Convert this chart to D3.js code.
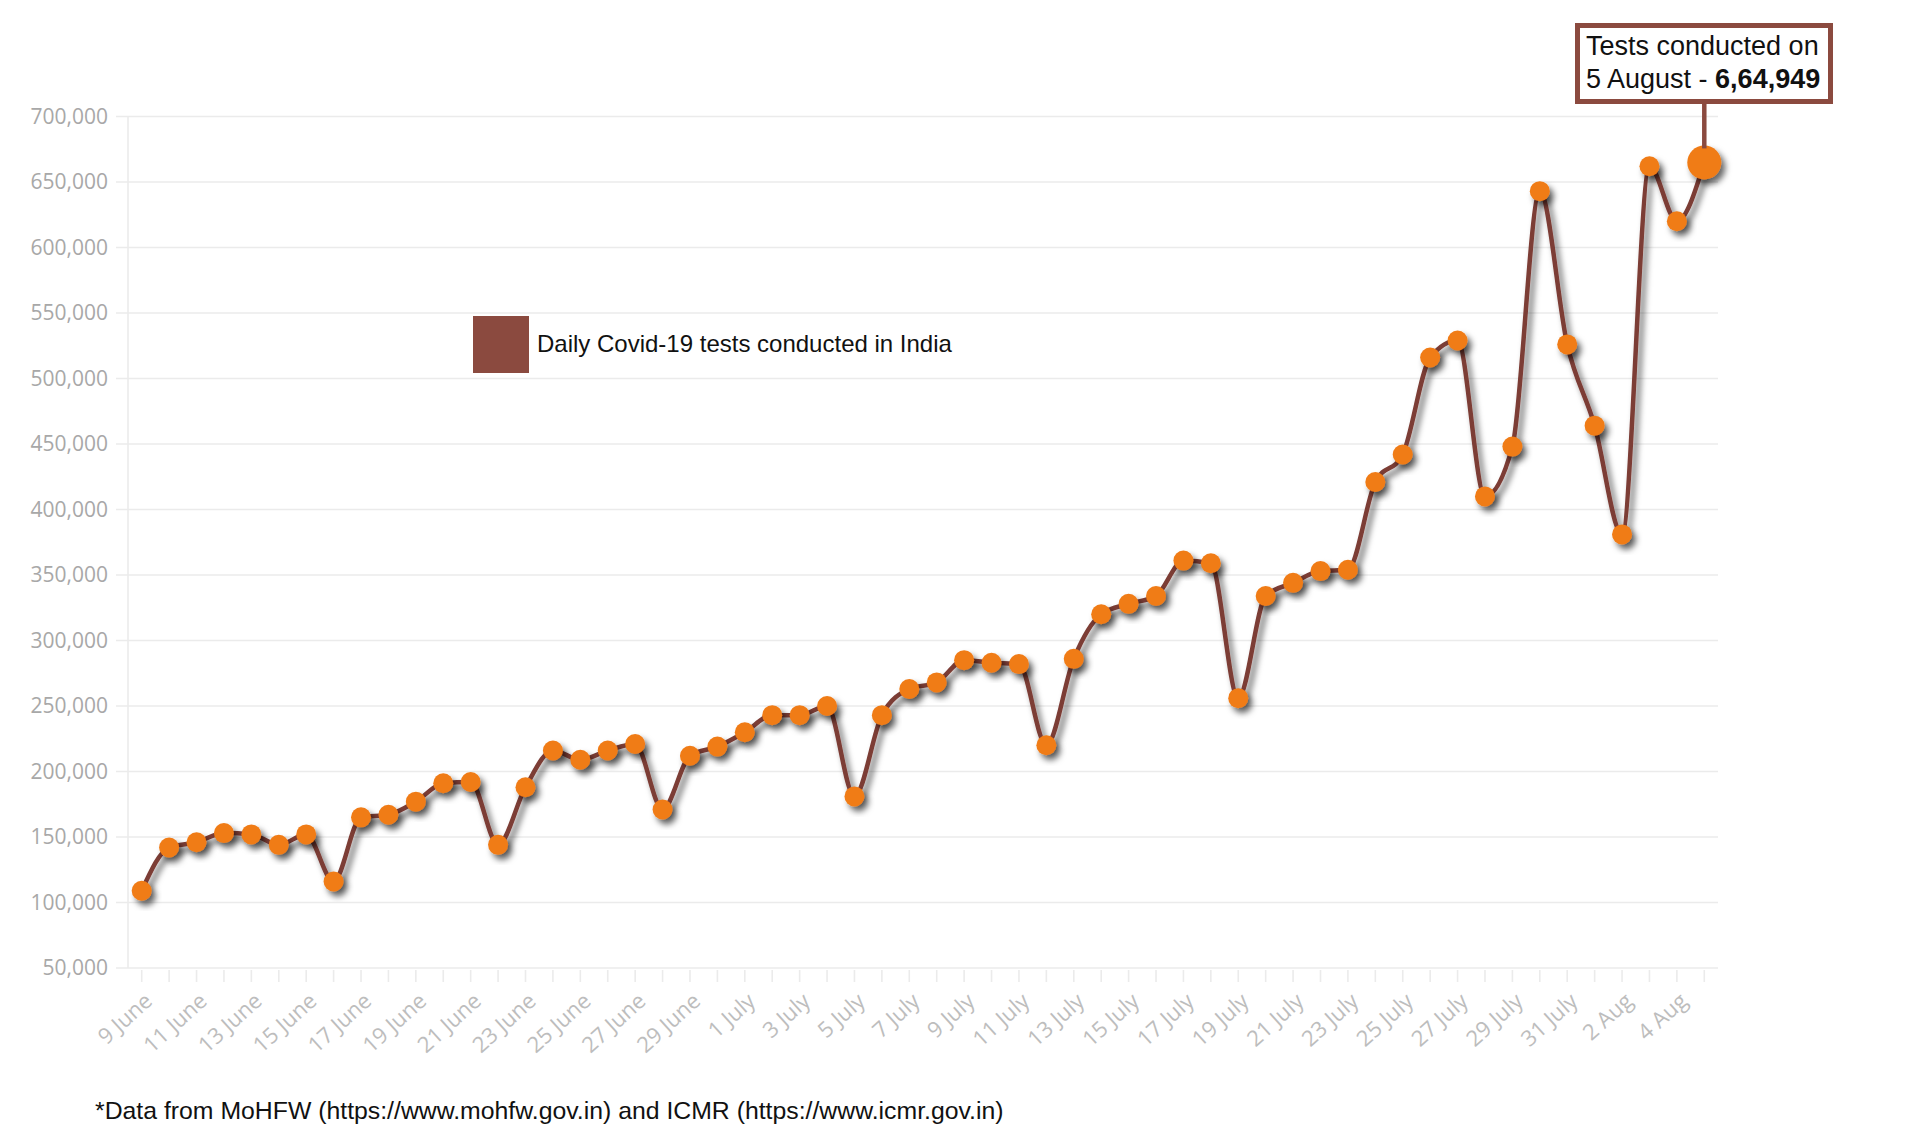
<!DOCTYPE html>
<html>
<head>
<meta charset="utf-8">
<script src="https://cdn.jsdelivr.net/npm/d3@7"></script>
<style>
  body { margin: 0; background: #fff; }
  svg { display: block; }
</style>
</head>
<body>
<svg id="chart" width="1920" height="1140"></svg>
<script>
// one label per day, 9 June to 5 August
var days = [
  "9 June","10 June","11 June","12 June","13 June","14 June","15 June","16 June","17 June","18 June",
  "19 June","20 June","21 June","22 June","23 June","24 June","25 June","26 June","27 June","28 June",
  "29 June","30 June","1 July","2 July","3 July","4 July","5 July","6 July","7 July","8 July",
  "9 July","10 July","11 July","12 July","13 July","14 July","15 July","16 July","17 July","18 July",
  "19 July","20 July","21 July","22 July","23 July","24 July","25 July","26 July","27 July","28 July",
  "29 July","30 July","31 July","1 Aug","2 Aug","3 Aug","4 Aug","5 Aug"
];

// daily tests
var tests = [
  109000,142000,146000,153000,152000,144000,152000,116000,165000,167000,
  177000,191000,192000,144000,188000,216000,209000,216000,221000,171000,
  212000,219000,230000,243000,243000,250000,181000,243000,263000,268000,
  285000,283000,282000,220000,286000,320000,328000,334000,361000,359000,
  256000,334000,344000,353000,354000,421000,442000,516000,529000,410000,
  448000,643000,526000,464000,381000,662000,620000,664949
];

var yTicks = [50000,100000,150000,200000,250000,300000,350000,400000,450000,500000,550000,600000,650000,700000];

var legendText = "Daily Covid-19 tests conducted in India";
var calloutLine1 = "Tests conducted on";
var calloutLine2 = "5 August - ";
var calloutValue = "6,64,949";
var footnote = "*Data from MoHFW (https://www.mohfw.gov.in) and ICMR (https://www.icmr.gov.in)";

var svg = d3.select('#chart');

// plot edges (window.top is taken, hence the names)
var plotLeft = 128, plotRight = 1718, plotTop = 116.5, plotBottom = 968;

var x = d3.scaleBand()
  .domain(days)
  .range([plotLeft, plotRight]);

var y = d3.scaleLinear()
  .domain([50000, 700000])
  .range([plotBottom, plotTop]);

function cx(d){ return x(d) + x.bandwidth() / 2; }

var defs = svg.append('defs');
var shadow = defs.append('filter')
  .attr('id', 'shadow')
  .attr('x', '-50%').attr('y', '-50%')
  .attr('width', '200%').attr('height', '200%');
shadow.append('feDropShadow')
  .attr('dx', 4)
  .attr('dy', 5)
  .attr('stdDeviation', 3)
  .attr('flood-color', '#000')
  .attr('flood-opacity', 0.6);

// gridlines + y labels
var yAxis = svg.append('g').attr('class', 'y-axis');
yAxis.selectAll('line.grid')
  .data(yTicks)
  .enter().append('line')
  .attr('class', 'grid')
  .attr('x1', plotLeft - 12)
  .attr('x2', plotRight)
  .attr('y1', d => y(d))
  .attr('y2', d => y(d))
  .style('stroke', '#ebebeb')
  .style('stroke-width', 1.6);

yAxis.selectAll('text')
  .data(yTicks)
  .enter().append('text')
  .attr('x', plotLeft - 20)
  .attr('y', d => y(d))
  .attr('dy', '0.35em')
  .attr('text-anchor', 'end')
  .style('font-family', '"Open Sans", sans-serif')
  .style('font-size', '21px')
  .style('fill', '#a8a8a8')
  .text(d => d3.format(',')(d));

// y axis line
svg.append('line')
  .attr('x1', plotLeft).attr('x2', plotLeft)
  .attr('y1', plotTop).attr('y2', plotBottom)
  .style('stroke', '#ebebeb')
  .style('stroke-width', 1.6);

// x ticks and labels
var xAxis = svg.append('g').attr('class', 'x-axis');
xAxis.selectAll('line')
  .data(days)
  .enter().append('line')
  .attr('x1', d => cx(d)).attr('x2', d => cx(d))
  .attr('y1', plotBottom + 2).attr('y2', plotBottom + 14)
  .style('stroke', '#ebebeb')
  .style('stroke-width', 1.6);

xAxis.selectAll('text')
  .data(days.filter((d, i) => i % 2 == 0))
  .enter().append('text')
  .attr('text-anchor', 'end')
  .attr('transform', d => `translate(${cx(d) + 12},${plotBottom + 35}) rotate(-42)`)
  .style('font-family', '"Open Sans", sans-serif')
  .style('font-size', '22px')
  .style('fill', '#bdbdbd')
  .text(d => d);

// the line
var line = d3.line()
  .x((d, i) => cx(days[i]))
  .y(d => y(d))
  .curve(d3.curveMonotoneX);

svg.append('path')
  .datum(tests)
  .attr('d', line)
  .style('fill', 'none')
  .style('stroke', '#7b3c35')
  .style('stroke-width', 4.5)
  .attr('filter', 'url(#shadow)');

// dots
var last = tests.length - 1;
svg.selectAll('circle.dot')
  .data(tests)
  .enter().append('circle')
  .attr('class', 'dot')
  .attr('cx', (d, i) => cx(days[i]))
  .attr('cy', d => y(d))
  .attr('r', (d, i) => i == last ? 17 : 10)
  .style('fill', '#f07b16')
  .attr('filter', 'url(#shadow)');

// legend
svg.append('rect')
  .attr('x', 473).attr('y', 316)
  .attr('width', 56).attr('height', 57)
  .style('fill', '#8b4a3f');
svg.append('text')
  .attr('x', 537).attr('y', 352)
  .style('font-family', '"Liberation Sans", Arial, sans-serif')
  .style('font-size', '24px')
  .style('fill', '#111')
  .text(legendText);

// callout
var lastX = cx(days[last]);
svg.append('line')
  .attr('x1', lastX).attr('x2', lastX)
  .attr('y1', 103).attr('y2', y(tests[last]) - 14)
  .style('stroke', '#8b4a3f')
  .style('stroke-width', 4.5);

svg.append('rect')
  .attr('x', 1577.5).attr('y', 25.5)
  .attr('width', 253).attr('height', 76)
  .style('fill', '#fff')
  .style('stroke', '#8b4a3f')
  .style('stroke-width', 5);

var callout = svg.append('text')
  .style('font-family', '"Liberation Sans", Arial, sans-serif')
  .style('font-size', '27px')
  .style('fill', '#111');
callout.append('tspan')
  .attr('x', 1586).attr('y', 55)
  .text(calloutLine1);
callout.append('tspan')
  .attr('x', 1586).attr('y', 88)
  .text(calloutLine2);
callout.append('tspan')
  .style('font-weight', 'bold')
  .text(calloutValue);

// footnote
svg.append('text')
  .attr('x', 95).attr('y', 1119)
  .style('font-family', '"Liberation Sans", Arial, sans-serif')
  .style('font-size', '24.8px')
  .style('fill', '#111')
  .text(footnote);
</script>
</body>
</html>
